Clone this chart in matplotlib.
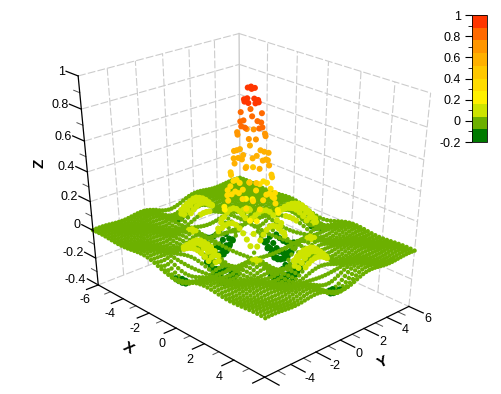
from matplotlib import pyplot as plt
from matplotlib.colors import ListedColormap, BoundaryNorm
from matplotlib.cm import ScalarMappable
from matplotlib.text import Text
import numpy as np

plt.rcParams['font.family'] = ['Liberation Sans', 'DejaVu Sans']

# grid positions on one half of an axis, read from the dot spacing
grid_half = [0.122, 0.367, 0.612, 0.857, 1.102, 1.347, 1.592, 1.837, 2.082, 2.327, 2.571, 2.816, 3.061,
             3.306, 3.551, 3.796, 4.041, 4.286, 4.531, 4.776, 5.020, 5.265, 5.510, 5.755, 6.0]
# height profile along one axis, estimated from the lobes
profile_half = [0.990, 0.912, 0.768, 0.577, 0.366, 0.161, -0.013, -0.138, -0.205, -0.215, -0.177, -0.107, -0.026,
                0.049, 0.104, 0.127, 0.120, 0.088, 0.040, -0.013, -0.057, -0.085, -0.091, -0.076, -0.045]

band_levels = [-0.2, -0.08, 0.04, 0.16, 0.28, 0.40, 0.52, 0.64, 0.76, 0.88, 1.0]
band_colors = ['#007a00', '#6cb000', '#cde400', '#fff000', '#ffdc00', '#ffc800',
               '#ffb000', '#ff9600', '#ff6a00', '#ff3600']

x_ticks = [-6, -4, -2, 0, 2, 4, 6]
x_labels = ['-6', '-4', '-2', '0', '2', '4', '']
y_ticks = [-6, -4, -2, 0, 2, 4, 6]
y_labels = ['', '-4', '-2', '0', '2', '4', '6']
z_ticks = [-0.4, -0.2, 0, 0.2, 0.4, 0.6, 0.8, 1]
z_labels = ['-0.4', '-0.2', '0', '0.2', '0.4', '0.6', '0.8', '1']

# box points as seen in the reference: x, y, z, pixel x, pixel y
anchors = [(-6, -6, -0.4, 98, 285), (-6, -6, 0, 93, 230), (-6, -6, 1, 78, 76), (6, -6, -0.4, 264, 378),
           (6, 6, -0.4, 408, 307), (6, 6, 0, 416, 250), (-6, 6, 1, 239, 33), (6, 6, 1, 430, 93),
           (-6, 6, 0.8, 239, 64), (-6, 6, 0.6, 239, 95),
           (-4, -6, -0.4, 123, 298), (-2, -6, -0.4, 149, 314), (0, -6, -0.4, 177, 328),
           (2, -6, -0.4, 204, 344), (4, -6, -0.4, 234, 360),
           (6, -4, -0.4, 291, 364), (6, -2, -0.4, 316, 352), (6, 0, -0.4, 340, 340),
           (6, 2, -0.4, 363, 328), (6, 4, -0.4, 387, 317),
           (-6, -6, 0.8, 81, 109), (-6, -6, 0.6, 84, 141), (-6, -6, 0.4, 88, 172), (-6, -6, 0.2, 91, 202),
           (6, 6, 0.8, 427, 127), (6, 6, 0.6, 424, 159), (6, 6, 0.4, 422, 192),
           (-4, 6, 1, 268, 43), (-2, 6, 1, 298, 52), (0, 6, 1, 329, 61), (2, 6, 1, 361, 72), (4, 6, 1, 394, 82),
           (-6, -4, 1, 108, 68), (-6, -2, 1, 135, 61), (-6, 0, 1, 162, 53), (-6, 2, 1, 189, 47), (-6, 4, 1, 214, 40)]

fig = plt.figure(figsize=(5.02, 3.94), dpi=100)
ax = fig.add_axes([0, 0, 1, 1], projection='3d')
ax.set_xlim(-6, 6)
ax.set_ylim(-6, 6)
ax.set_zlim(-0.4, 1)
ax.set_xticks([])
ax.set_yticks([])
ax.set_zticks([])
ax.set_axis_off()
ax.set_proj_type('persp', focal_length=1)
ax.apply_aspect()

# camera from the box points: solve the projection matrix, keep depth row for the dot sorting
a = np.array(anchors, dtype=float)
v = ax.transData.inverted().transform(np.column_stack([a[:, 3], 394 - a[:, 4]]))
rows = []
rhs = []
for (px, py, pz), (u, w) in zip(a[:, :3], v):
    rows.append([px, py, pz, 1, 0, 0, 0, 0, -u * px, -u * py, -u * pz])
    rhs.append(u)
    rows.append([0, 0, 0, 0, px, py, pz, 1, -w * px, -w * py, -w * pz])
    rhs.append(w)
sol = np.linalg.lstsq(np.array(rows), np.array(rhs), rcond=None)[0]
M = np.array([list(sol[:4]), list(sol[4:8]), [0, 0, 0, -1], list(sol[8:]) + [1]])
ax.get_proj = lambda: M

grid = np.array([-g for g in grid_half[::-1]] + grid_half)
prof = np.array(profile_half[::-1] + profile_half)
X, Y = np.meshgrid(grid, grid, indexing='ij')
Z = np.outer(prof, prof)

cmap = ListedColormap(band_colors)
norm = BoundaryNorm(band_levels, cmap.N)
flat_band = (Z.ravel() > band_levels[1]) & (Z.ravel() <= band_levels[2])
sizes = np.where(flat_band, 10, 19)
ax.scatter(X.ravel(), Y.ravel(), Z.ravel(), c=Z.ravel(), cmap=cmap, norm=norm, s=sizes, linewidths=0,
           depthshade=False, zorder=3)

grid_kw = dict(color='#cccccc', lw=0.8, ls=(0, (7, 2)), zorder=1)
for t in z_ticks:
    ax.plot([-6, -6], [-6, 6], [t, t], **grid_kw)
    ax.plot([-6, 6], [6, 6], [t, t], **grid_kw)
for t in y_ticks[1:-1]:
    ax.plot([-6, -6], [t, t], [-0.4, 1], **grid_kw)
for t in x_ticks[1:]:
    ax.plot([t, t], [6, 6], [-0.4, 1], **grid_kw)
ax.plot([-6, -6], [6, 6], [-0.4, 1], color='#cccccc', lw=1.0, zorder=1)

line_kw = dict(color='black', lw=0.9, zorder=5)
ax.plot([-6, -6], [-6, -6], [-0.4, 1], **line_kw)
ax.plot([-6, 6], [-6, -6], [-0.4, -0.4], **line_kw)
ax.plot([6, 6], [-6, 6], [-0.4, -0.4], **line_kw)
for t, lab in zip(x_ticks, x_labels):
    ax.plot([t, t], [-6, -6.9], [-0.4, -0.4], **line_kw)
    if t < 6:
        ax.plot([t + 1, t + 1], [-6, -6.45], [-0.4, -0.4], color='#555555', lw=0.7)
    if lab:
        ax.text(t, -7.1, -0.47, lab, fontsize=9, ha='center', va='center')
for t, lab in zip(y_ticks, y_labels):
    ax.plot([6, 6.9], [t, t], [-0.4, -0.4], **line_kw)
    if t < 6:
        ax.plot([6, 6.45], [t + 1, t + 1], [-0.4, -0.4], color='#555555', lw=0.7)
    if lab:
        ax.text(7.2, t, -0.43, lab, fontsize=9, ha='center', va='center')
for t, lab in zip(z_ticks, z_labels):
    ax.plot([-6, -6.9], [-6, -6], [t, t], **line_kw)
    if t < 1:
        ax.plot([-6, -6.45], [-6, -6], [t + 0.1, t + 0.1], color='#555555', lw=0.7)
    ax.text(-7.0, -6, t - 0.01, lab, fontsize=9, ha='right', va='center')

fig.text(128 / 502, 1 - 348 / 394, 'X', fontsize=11, fontweight='bold', rotation=-30, ha='center', va='center')
fig.text(383 / 502, 1 - 362 / 394, 'Y', fontsize=11, fontweight='bold', rotation=25, ha='center', va='center')
fig.text(40 / 502, 1 - 163 / 394, 'Z', fontsize=11, fontweight='bold', rotation=90, ha='center', va='center')

cax = fig.add_axes([472 / 502, 1 - 142 / 394, 15 / 502, 127 / 394])
sm = ScalarMappable(norm=norm, cmap=cmap)
cb = fig.colorbar(sm, cax=cax, spacing='proportional', ticks=[-0.2, 0, 0.2, 0.4, 0.6, 0.8, 1])
cb.ax.set_yticklabels(['-0.2', '0', '0.2', '0.4', '0.6', '0.8', '1'], fontsize=9)
cb.ax.yaxis.set_ticks_position('left')
cb.ax.set_yticks([-0.1, 0.1, 0.3, 0.5, 0.7, 0.9], minor=True)
cb.ax.tick_params(which='major', length=5, width=0.8, pad=3)
cb.ax.tick_params(which='minor', length=3, width=0.6)
cb.outline.set_linewidth(0.6)

# leftover empty texts of the hidden 3d axes
for t in fig.findobj(Text):
    if not t.get_text():
        t.set_visible(False)

fig.savefig('out.png', dpi=100)
